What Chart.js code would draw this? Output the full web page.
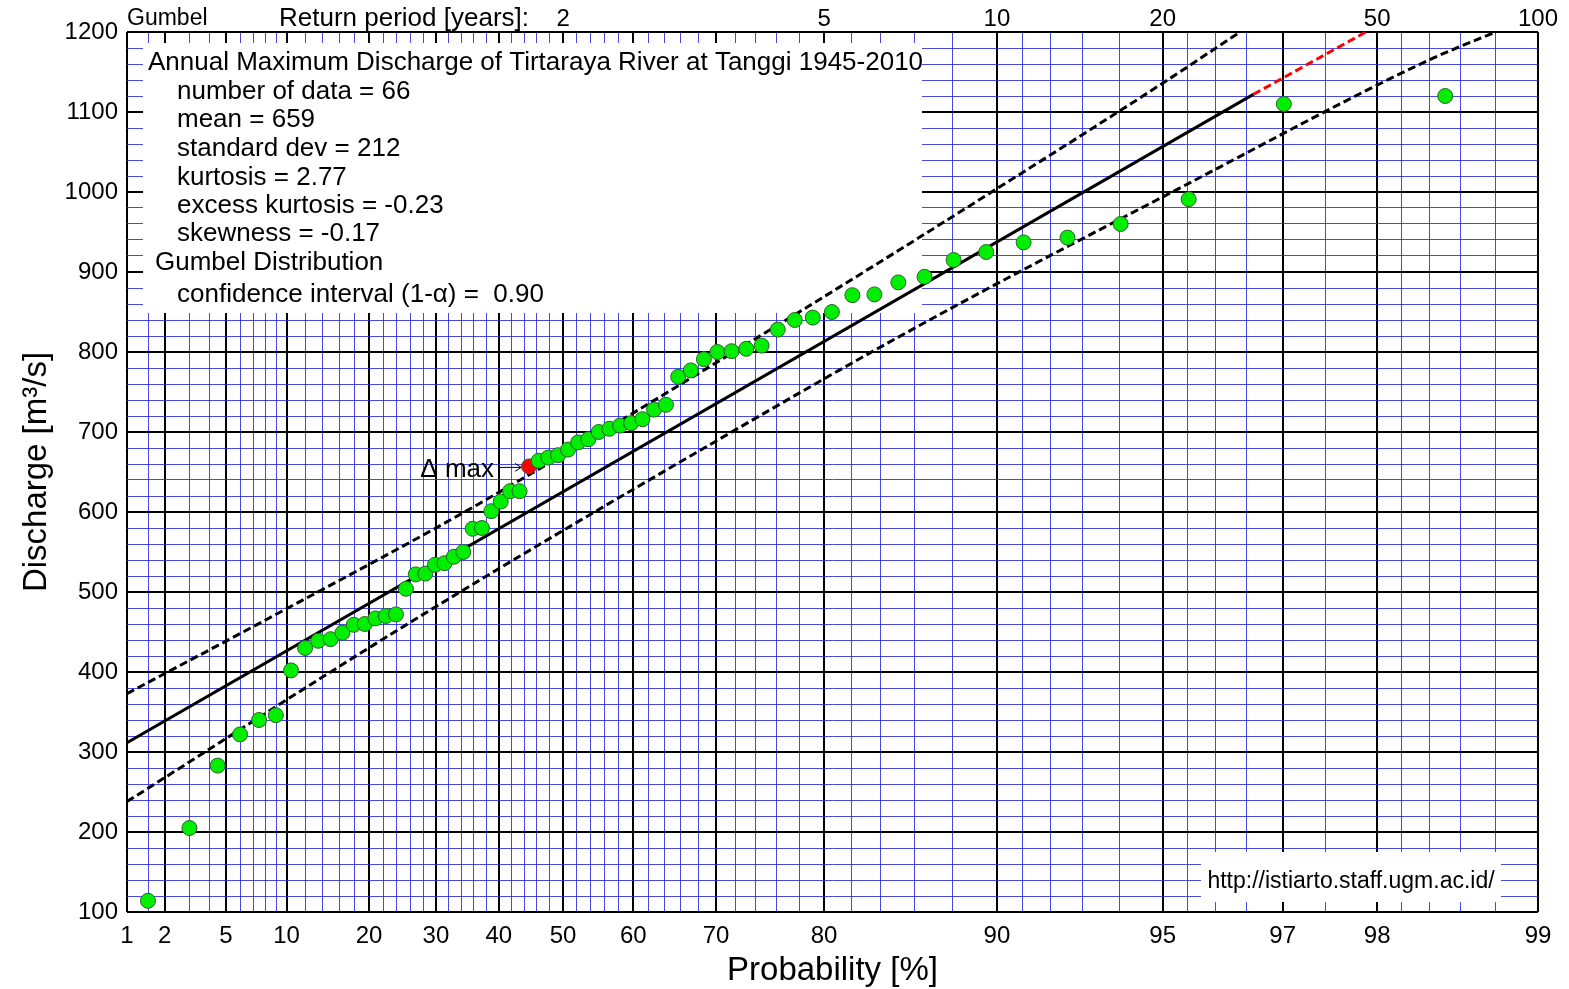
<!DOCTYPE html>
<html>
<head>
<meta charset="utf-8">
<script src="https://cdn.jsdelivr.net/npm/chart.js@4.4.0/dist/chart.umd.min.js"></script>
<style>
  html, body { margin: 0; padding: 0; background: #fff; }
  #wrap { width: 1569px; height: 989px; }
</style>
</head>
<body>
<div id="wrap"><canvas id="chart"></canvas></div>
<script>
// annual maximum discharge, sorted ascending [m3/s]
const discharge = [114, 205, 283, 322, 340, 346, 402, 430, 439, 441,
  449, 459, 460, 467, 470, 472, 504, 522, 523, 534,
  536, 544, 550, 579, 580, 601, 613, 626, 626, 657,
  664, 668, 671, 678, 687, 691, 700, 704, 708, 711,
  716, 728, 734, 769, 777, 791, 800, 801, 804, 808,
  828, 840, 843, 850, 871, 872, 887, 894, 915, 925,
  937, 943, 960, 991, 1110, 1120];
const deltaMaxRank = 30; // point marked "Δ max"

// Gumbel line and its 90% confidence band (probability %, discharge)
const fitP = [1, 96.6];
const fitQ = [311.6, 1122];
const extP = [96.6, 97.9];
const extQ = [1122, 1200];
const upperP = [1, 9.4, 37, 76.4, 90.2, 95, 96.4];
const upperQ = [373, 475, 611, 836, 1008, 1136, 1200];
const lowerP = [1, 26.6, 68.3, 86, 95.4, 98.4, 98.8];
const lowerQ = [238, 465, 677.5, 829.6, 1006.6, 1165, 1200];

// probability paper grid
const probMajor = [1, 2, 5, 10, 20, 30, 40, 50, 60, 70, 80, 90, 95, 97, 98, 99];
const probMinor = [1.5, 3, 4, 6, 7, 8, 9, 12, 14, 16, 18, 22, 24, 26, 28, 32, 34, 36, 38,
  42, 44, 46, 48, 52, 54, 56, 58, 62, 64, 66, 68, 72, 74, 76, 78, 82, 84, 86, 88,
  91, 92, 93, 94, 95.5, 96, 96.5, 97.5, 98.2, 98.4, 98.6, 98.8];
const returnPeriods = [2, 5, 10, 20, 50, 100];

const infoLines = [
  'Annual Maximum Discharge of Tirtaraya River at Tanggi 1945-2010',
  'number of data = 66',
  'mean = 659',
  'standard dev = 212',
  'kurtosis = 2.77',
  'excess kurtosis = -0.23',
  'skewness = -0.17',
  'Gumbel Distribution',
  'confidence interval (1-\u03b1) =  0.90'
];

const FONT = '"Liberation Sans", Arial, sans-serif';
const BLUE = 'rgba(40, 40, 225, 0.85)';

// reduced variate of the Gumbel paper
function gumbel(p) {
  return -Math.log(-Math.log(p / 100));
}

const n = discharge.length;
const points = discharge.map((q, i) => ({ x: gumbel((i + 1) / (n + 1) * 100), y: q }));
const toXY = (ps, qs) => ps.map((p, i) => ({ x: gumbel(p), y: qs[i] }));

const gridProb = probMajor.concat(probMinor).sort((a, b) => a - b);

const annotations = {
  id: 'annotations',
  beforeDatasetsDraw(chart) {
    const ctx = chart.ctx;
    const a = chart.chartArea;
    ctx.save();
    ctx.fillStyle = '#fff';
    ctx.fillRect(a.left + 16, a.top + 11, 779, 270);
    ctx.fillRect(1201, 852, 300, 50);

    ctx.fillStyle = '#000';
    ctx.font = '26px ' + FONT;
    ctx.textBaseline = 'middle';
    ctx.textAlign = 'left';
    const xs = [148, 177, 177, 177, 177, 177, 177, 155, 177];
    const ys = [63, 92, 120, 149, 178, 206, 234, 263, 295];
    infoLines.forEach((t, i) => ctx.fillText(t, xs[i], ys[i]));

    ctx.font = '23px ' + FONT;
    ctx.textAlign = 'center';
    ctx.fillText('http://istiarto.staff.ugm.ac.id/', 1351, 882);
    ctx.restore();
  },
  afterDatasetsDraw(chart) {
    const ctx = chart.ctx;
    const xs = chart.scales.x, ys = chart.scales.y;
    const p = points[deltaMaxRank - 1];
    const px = xs.getPixelForValue(p.x), py = ys.getPixelForValue(p.y);
    ctx.save();
    ctx.fillStyle = '#000';
    ctx.font = '26px ' + FONT;
    ctx.textBaseline = 'middle';
    ctx.textAlign = 'right';
    ctx.fillText('\u0394 max', px - 35, py + 3);
    ctx.strokeStyle = '#000';
    ctx.lineWidth = 1;
    ctx.beginPath();
    ctx.moveTo(px - 31, py + 1);
    ctx.lineTo(px - 8, py + 1);
    ctx.moveTo(px - 14, py - 3);
    ctx.lineTo(px - 8, py + 1);
    ctx.lineTo(px - 14, py + 5);
    ctx.stroke();

    ctx.font = '23px ' + FONT;
    ctx.textAlign = 'left';
    ctx.fillText('Gumbel', 127, 19);
    ctx.font = '26px ' + FONT;
    ctx.fillText('Return period [years]:', 279, 19);
    ctx.restore();
  }
};

const ctx = document.getElementById('chart');
new Chart(ctx, {
  type: 'scatter',
  data: {
    datasets: [
      {
        label: 'Data',
        data: points,
        pointRadius: 7.5,
        pointBorderWidth: 1,
        pointBorderColor: '#2f5f2f',
        pointBackgroundColor: points.map((_, i) => i === deltaMaxRank - 1 ? '#ff0000' : '#00ee00')
      },
      {
        label: 'Gumbel',
        data: toXY(fitP, fitQ),
        showLine: true,
        borderColor: '#000',
        borderWidth: 3,
        pointRadius: 0
      },
      {
        label: 'Extrapolation',
        data: toXY(extP, extQ),
        showLine: true,
        borderColor: '#ff0000',
        borderWidth: 3,
        borderDash: [8, 4],
        pointRadius: 0
      },
      {
        label: 'Upper',
        data: toXY(upperP, upperQ),
        showLine: true,
        borderColor: '#000',
        borderWidth: 3,
        borderDash: [8, 4],
        cubicInterpolationMode: 'monotone',
        pointRadius: 0
      },
      {
        label: 'Lower',
        data: toXY(lowerP, lowerQ),
        showLine: true,
        borderColor: '#000',
        borderWidth: 3,
        borderDash: [8, 4],
        cubicInterpolationMode: 'monotone',
        pointRadius: 0
      }
    ]
  },
  options: {
    responsive: true,
    maintainAspectRatio: false,
    animation: false,
    layout: { padding: { left: 0, right: 31, top: 0, bottom: 0 } },
    plugins: {
      legend: { display: false },
      tooltip: { enabled: false }
    },
    scales: {
      x: {
        type: 'linear',
        position: 'bottom',
        min: gumbel(1),
        max: gumbel(99),
        afterBuildTicks: s => {
          s.ticks = gridProb.map(p => ({ value: gumbel(p), prob: p, isMajor: probMajor.includes(p) }));
        },
        afterFit: s => { s.height = 77; },
        ticks: {
          autoSkip: false,
          maxRotation: 0,
          padding: 10,
          color: '#000',
          font: { family: FONT, size: 24 },
          callback: (v, i, ticks) => ticks[i].isMajor ? String(ticks[i].prob) : ''
        },
        grid: {
          drawTicks: false,
          color: c => c.tick && c.tick.isMajor ? '#000' : BLUE,
          lineWidth: c => c.tick && c.tick.isMajor ? 2 : 1
        },
        border: { display: false },
        title: {
          display: true,
          text: 'Probability [%]',
          color: '#000',
          font: { family: FONT, size: 33 },
          padding: { top: 0, bottom: -2 }
        }
      },
      x2: {
        type: 'linear',
        position: 'top',
        min: gumbel(1),
        max: gumbel(99),
        afterBuildTicks: s => {
          s.ticks = returnPeriods.map(t => ({ value: gumbel(100 - 100 / t), period: t }));
        },
        afterFit: s => { s.height = 32; },
        ticks: {
          autoSkip: false,
          maxRotation: 0,
          padding: -2,
          color: '#000',
          font: { family: FONT, size: 24 },
          callback: (v, i, ticks) => String(ticks[i].period)
        },
        grid: { display: false, drawTicks: false },
        border: { display: false }
      },
      y: {
        min: 100,
        max: 1200,
        afterFit: s => { s.width = 127; },
        ticks: {
          stepSize: 20,
          autoSkip: false,
          padding: 9,
          color: '#000',
          font: { family: FONT, size: 24 },
          callback: v => v % 100 === 0 ? String(v) : ''
        },
        grid: {
          drawTicks: false,
          color: c => c.tick && c.tick.value % 100 === 0 ? '#000' : BLUE,
          lineWidth: c => c.tick && c.tick.value % 100 === 0 ? 2 : 1
        },
        border: { display: false },
        title: {
          display: true,
          text: 'Discharge [m\u00b3/s]',
          color: '#000',
          font: { family: FONT, size: 33 },
          padding: { top: 17, bottom: 0 }
        }
      }
    }
  },
  plugins: [annotations]
});
</script>
</body>
</html>
